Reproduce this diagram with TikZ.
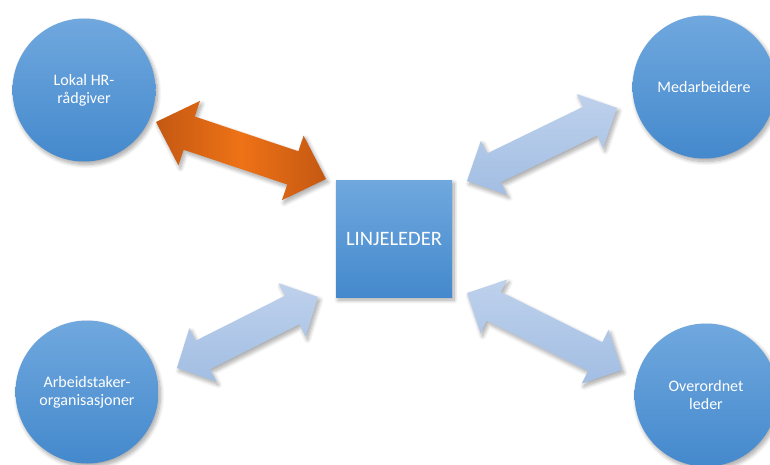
\documentclass[tikz,border=0pt]{standalone}
\usepackage{fontspec}
\setmainfont{Carlito}
\usetikzlibrary{calc,shadows.blur}

\definecolor{bluetop}{RGB}{112,168,222}
\definecolor{bluebot}{RGB}{68,137,205}
\definecolor{lighttop}{RGB}{190,209,236}
\definecolor{lightbot}{RGB}{162,190,227}
\definecolor{orangedark}{RGB}{196,88,18}
\definecolor{orangemid}{RGB}{238,114,22}

% double-headed block arrow between two named tips:
% #1 style, #2/#3 tips, #4 head length, #5 head half-width, #6 shaft half-width
\newcommand\dblarrow[6]{%
  \path[#1]
    (#2)
    -- ($($(#2)!#4!(#3)$)!#5!90:(#3)$)
    -- ($($(#2)!#4!(#3)$)!#6!90:(#3)$)
    -- ($($(#3)!#4!(#2)$)!#6!-90:(#2)$)
    -- ($($(#3)!#4!(#2)$)!#5!-90:(#2)$)
    -- (#3)
    -- ($($(#3)!#4!(#2)$)!#5!90:(#2)$)
    -- ($($(#3)!#4!(#2)$)!#6!90:(#2)$)
    -- ($($(#2)!#4!(#3)$)!#6!-90:(#3)$)
    -- ($($(#2)!#4!(#3)$)!#5!-90:(#3)$)
    -- cycle;}

\tikzset{
  softshadow/.style={blur shadow={shadow xshift=2pt,shadow yshift=-3pt,
      shadow blur steps=8,shadow blur radius=4pt,shadow opacity=35}},
  party/.style={circle,minimum size=143pt,inner sep=0pt,top color=bluetop,
      bottom color=bluebot,softshadow,text=white,align=center,
      font=\fontsize{16}{18}\selectfont},
  leaderbox/.style={rectangle,minimum width=116pt,minimum height=117pt,
      inner sep=0pt,top color=bluetop,bottom color=bluebot,softshadow,
      text=white,font=\fontsize{20.5}{24}\selectfont},
  lightarrow/.style={top color=lighttop,bottom color=lightbot,softshadow},
  hotarrow/.style={left color=orangedark,right color=orangedark,
      middle color=orangemid,softshadow},
}

\begin{document}
\begin{tikzpicture}[x=1pt,y=-1pt]
  \useasboundingbox (0,0) rectangle (770,465);
  \clip (0,0) rectangle (770,465);

  % connector tips
  \coordinate (hrTip) at (156,122);
  \coordinate (ljHr)  at (326,179);
  \coordinate (maTip) at (617,108);
  \coordinate (ljMa)  at (467,181);
  \coordinate (aoTip) at (177,368);
  \coordinate (ljAo)  at (318,297);
  \coordinate (olTip) at (622,370);
  \coordinate (ljOl)  at (467,293);

  % block arrows
  \dblarrow{hotarrow}{hrTip}{ljHr}{35pt}{34pt}{17.5pt}
  \dblarrow{lightarrow}{ljMa}{maTip}{30pt}{30pt}{16pt}
  \dblarrow{lightarrow}{aoTip}{ljAo}{29pt}{30pt}{16pt}
  \dblarrow{lightarrow}{ljOl}{olTip}{30pt}{30pt}{16pt}

  % parties
  \node[party] (hr) at (84,90)   {Lokal HR-\\rådgiver};
  \node[party] (ma) at (704,87)  {Medarbeidere};
  \node[party] (ao) at (87,392)  {Arbeidstaker-\\organisasjoner};
  \node[party] (ol) at (706,395) {Overordnet\\leder};

  % centre
  \node[leaderbox] (lj) at (394,238.5) {LINJELEDER};
\end{tikzpicture}
\end{document}
